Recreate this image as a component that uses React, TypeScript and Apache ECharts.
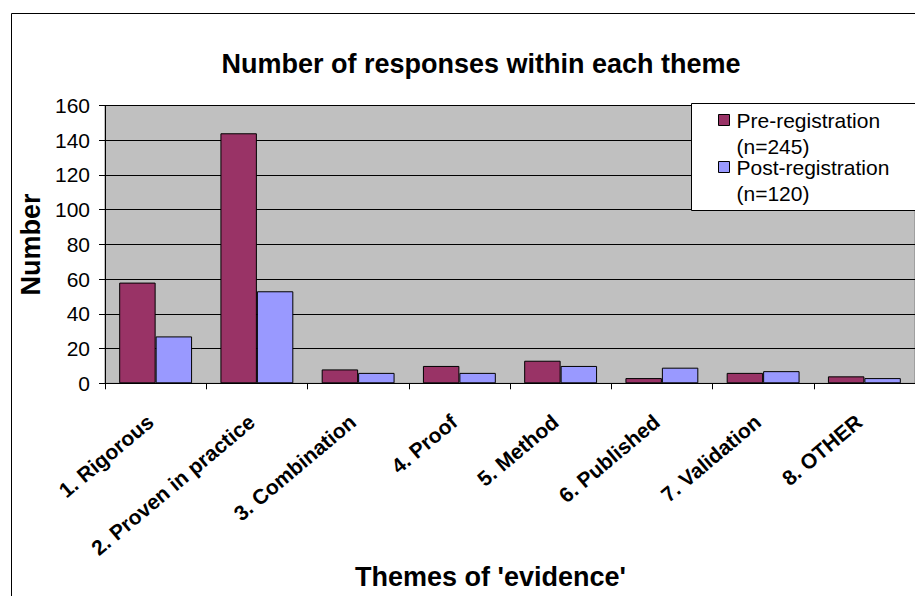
import React, { useEffect, useRef } from "react";
import * as echarts from "echarts";

const categories = [
  "1. Rigorous",
  "2. Proven in practice",
  "3. Combination",
  "4. Proof",
  "5. Method",
  "6. Published",
  "7. Validation",
  "8. OTHER",
];
const preRegistration = [58, 144, 8, 10, 13, 3, 6, 4];
const postRegistration = [27, 53, 6, 6, 10, 9, 7, 3];
const seriesNames = ["Pre-registration (n=245)", "Post-registration (n=120)"];
const yTicks = { min: 0, max: 160, interval: 20 };

const FONT = "'Liberation Sans', Arial, Helvetica, sans-serif";

export default function App() {
  const ref = useRef<HTMLDivElement>(null);

  useEffect(() => {
    if (!ref.current) return;
    const chart = echarts.init(ref.current, null, { renderer: "svg" });
    chart.setOption({
      animation: false,
      backgroundColor: "#ffffff",
      textStyle: { fontFamily: FONT, color: "#000" },
      title: {
        text: "Number of responses within each theme",
        left: 476,
        top: 45,
        textAlign: "center",
        textStyle: { fontFamily: FONT, fontSize: 27, fontWeight: "bold", color: "#000" },
      },
      graphic: [
        {
          type: "rect",
          z: 0,
          shape: { x: 11.5, y: 13.5, width: 2000, height: 2000 },
          style: { fill: "none", stroke: "#000", lineWidth: 1 },
        },
        {
          type: "rect",
          z: 3,
          shape: { x: 691.5, y: 103.5, width: 400, height: 107 },
          style: { fill: "#fff", stroke: "#000", lineWidth: 1 },
        },
      ],
      legend: {
        orient: "vertical",
        left: 718,
        top: 81,
        z: 4,
        padding: 0,
        itemWidth: 11,
        itemHeight: 11,
        itemGap: -31,
        icon: "rect",
        itemStyle: { borderColor: "#000", borderWidth: 1 },
        // leading empty line keeps the first text line level with the marker
        formatter: (name: string) => "\n" + name.replace(" (", "\n("),
        textStyle: {
          fontFamily: FONT,
          fontSize: 21,
          color: "#000",
          lineHeight: 26,
          padding: [0, 0, 0, 2],
        },
        data: seriesNames,
      },
      grid: {
        left: 105,
        top: 105.5,
        right: -5,
        bottom: 212.7,
        show: true,
        backgroundColor: "#C0C0C0",
        borderColor: "#808080",
        borderWidth: 1,
      },
      xAxis: {
        type: "category",
        data: categories,
        name: "Themes of 'evidence'",
        nameLocation: "middle",
        nameGap: 180,
        nameTextStyle: {
          fontFamily: FONT,
          fontSize: 27,
          fontWeight: "bold",
          color: "#000",
          padding: [0, 39, 0, 0],
        },
        axisLine: { lineStyle: { color: "#000", width: 1 } },
        axisTick: { show: true, interval: 0, alignWithLabel: false, length: 6, lineStyle: { color: "#000" } },
        axisLabel: {
          interval: 0,
          rotate: 40,
          margin: 31,
          padding: [0, 7, 0, 0],
          fontFamily: FONT,
          fontSize: 21,
          fontWeight: "bold",
          color: "#000",
        },
        splitLine: { show: false },
      },
      yAxis: {
        type: "value",
        min: yTicks.min,
        max: yTicks.max,
        interval: yTicks.interval,
        name: "Number",
        nameLocation: "middle",
        nameGap: 49,
        nameTextStyle: { fontFamily: FONT, fontSize: 27, fontWeight: "bold", color: "#000" },
        axisLine: { show: true, lineStyle: { color: "#000", width: 1 } },
        axisTick: { show: true, length: 6, lineStyle: { color: "#000" } },
        axisLabel: { margin: 15, fontFamily: FONT, fontSize: 21, color: "#000" },
        splitLine: { show: true, lineStyle: { color: "#000", width: 1 } },
      },
      series: [
        {
          name: seriesNames[0],
          type: "bar",
          data: preRegistration,
          barGap: "0%",
          barCategoryGap: "28%",
          itemStyle: { color: "#993366", borderColor: "#000", borderWidth: 1 },
        },
        {
          name: seriesNames[1],
          type: "bar",
          data: postRegistration,
          barGap: "0%",
          barCategoryGap: "28%",
          itemStyle: { color: "#9999FF", borderColor: "#000", borderWidth: 1 },
        },
      ],
    });
    return () => chart.dispose();
  }, []);

  return (
    <div
      ref={ref}
      style={{ position: "fixed", left: 0, top: 0, width: 915, height: 596, overflow: "hidden" }}
    />
  );
}
